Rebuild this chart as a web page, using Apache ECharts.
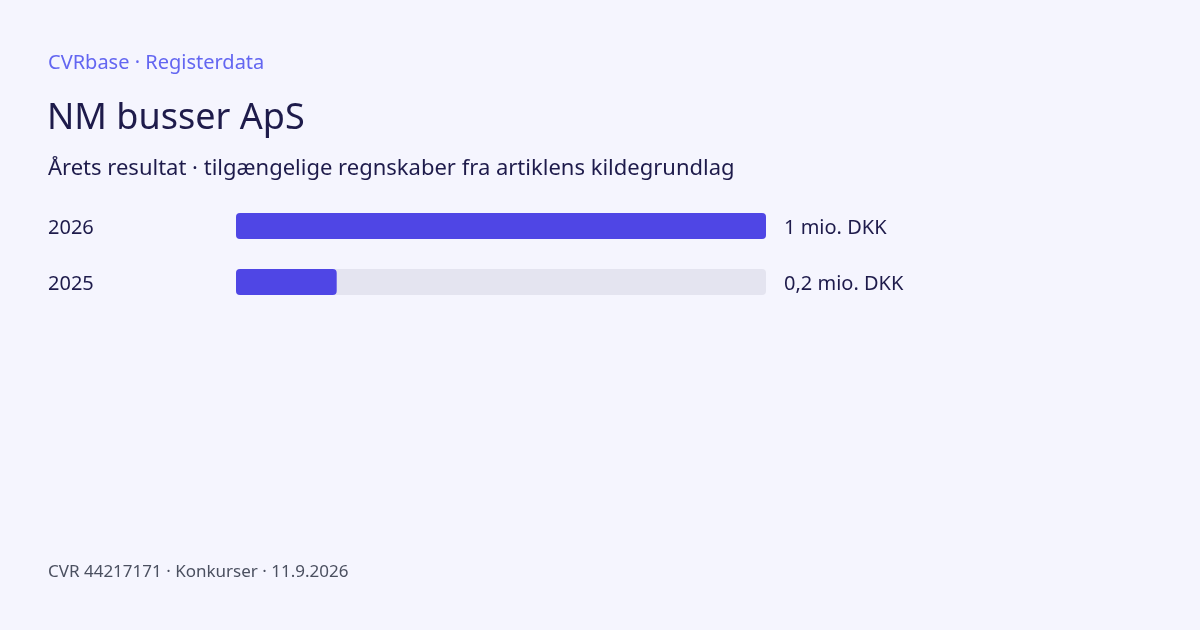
<!DOCTYPE html>
<html><head><meta charset="utf-8">
<script src="https://cdn.jsdelivr.net/npm/echarts@6/dist/echarts.min.js"></script>
<style>html,body{margin:0;padding:0;background:#f5f5fe;}#c{width:1200px;height:630px;}</style>
</head><body><div id="c"></div>
<script>
const years = ['2026', '2025'];
const values = [1, 0.19];
const valueLabels = ['1 mio. DKK', '0,2 mio. DKK'];
const kicker = 'CVRbase · Registerdata';
const heading = 'NM busser ApS';
const subtitle = 'Årets resultat · tilgængelige regnskaber fra artiklens kildegrundlag';
const footer = 'CVR 44217171 · Konkurser · 11.9.2026';

const font = 'Noto Sans';
const labelRich = {t: {fontFamily: font, fontSize: 20, color: '#1e1b4b', padding: [4, 0, 0, 0]}};
const chart = echarts.init(document.getElementById('c'));
chart.setOption({
  backgroundColor: '#f5f5fe',
  animation: false,
  title: [
    {text: kicker, left: 48, top: 53, padding: 0, textStyle: {fontFamily: font, fontSize: 20, fontWeight: 'normal', color: '#6366f1'}},
    {text: heading, left: 47, top: 101, padding: 0, textStyle: {fontFamily: font, fontSize: 36, fontWeight: 'normal', color: '#1e1b4b'}},
    {text: subtitle, left: 48, top: 158, padding: 0, textStyle: {fontFamily: font, fontSize: 22, fontWeight: 'normal', color: '#1e1b4b'}},
    {text: footer, left: 48, top: 564, padding: 0, textStyle: {fontFamily: font, fontSize: 17, fontWeight: 'normal', color: '#4b5060'}}
  ],
  grid: {left: 236, width: 530, top: 198, height: 112},
  xAxis: {type: 'value', min: 0, max: 1, show: false},
  yAxis: [
    {type: 'category', data: years, inverse: true, axisLine: {show: false}, axisTick: {show: false},
     axisLabel: {align: 'left', margin: 188, rich: labelRich, formatter: (v) => '{t|' + v + '}'}},
    {type: 'category', data: years, inverse: true, position: 'right', axisLine: {show: false}, axisTick: {show: false},
     axisLabel: {align: 'left', margin: 18, rich: labelRich,
       formatter: (v, i) => '{t|' + valueLabels[i] + '}'}}
  ],
  series: [{
    type: 'bar', data: values, barWidth: 26, yAxisIndex: 0,
    itemStyle: {color: '#4f46e5', borderRadius: 4},
    showBackground: true,
    backgroundStyle: {color: '#e4e4f0', borderRadius: 4}
  }]
});
</script></body></html>
